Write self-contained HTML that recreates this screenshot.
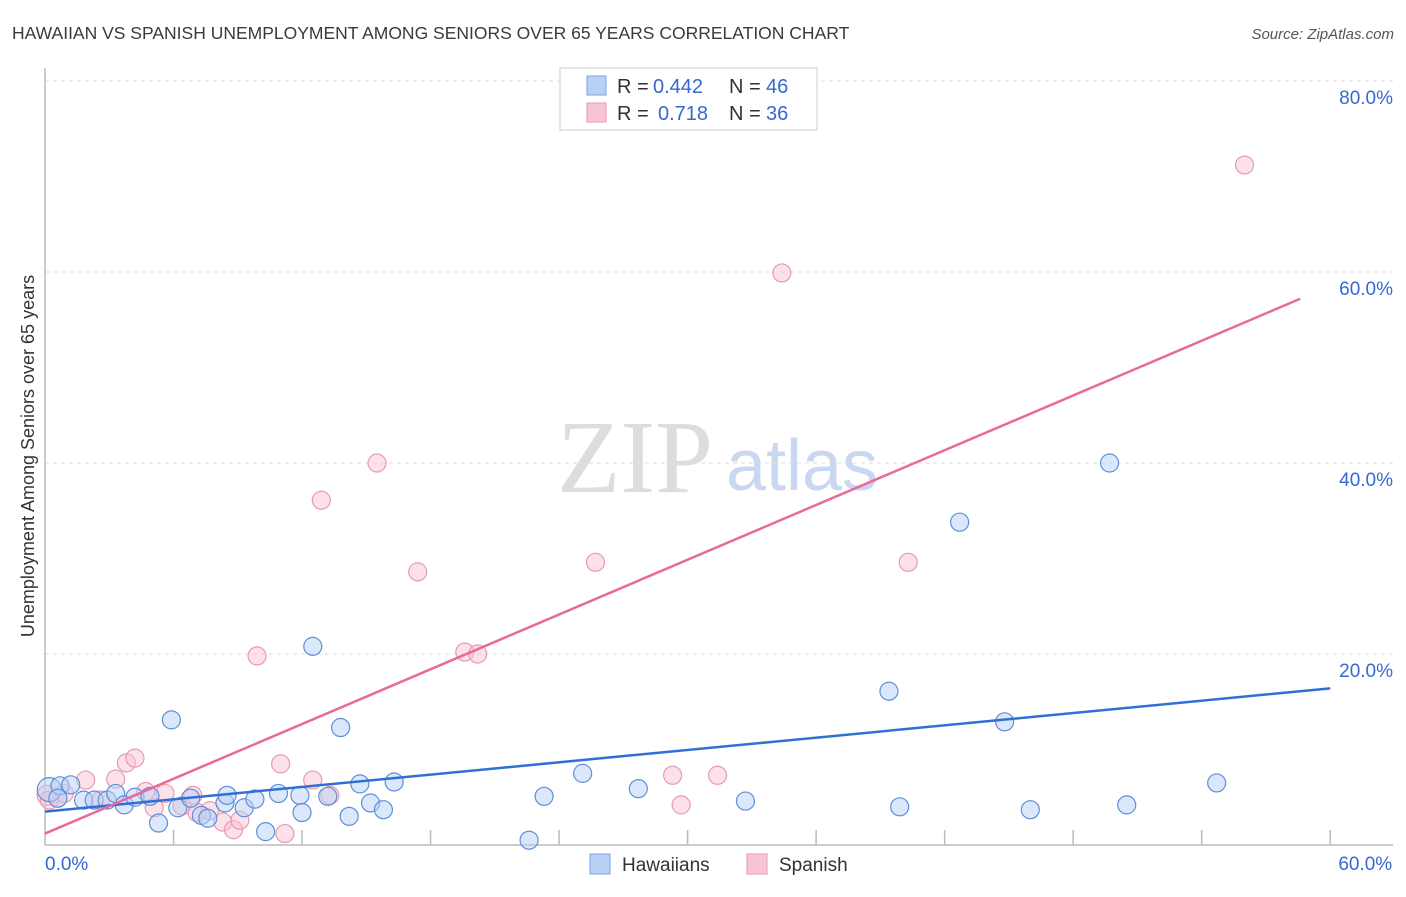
<!DOCTYPE html>
<html><head><meta charset="utf-8"><style>
body{margin:0;background:#fff;font-family:"Liberation Sans",sans-serif}
</style></head><body>
<svg id="c" width="1406" height="892" xmlns="http://www.w3.org/2000/svg">
<text x="12" y="39" font-size="17.5" fill="#3a3a3a">HAWAIIAN VS SPANISH UNEMPLOYMENT AMONG SENIORS OVER 65 YEARS CORRELATION CHART</text>
<text x="1394" y="39" font-size="15" fill="#555" font-style="italic" text-anchor="end">Source: ZipAtlas.com</text>
<text x="34" y="456" font-size="18" fill="#333" text-anchor="middle" transform="rotate(-90 34 456)">Unemployment Among Seniors over 65 years</text>
<text x="635" y="492" font-size="104" fill="#ddd" font-family="Liberation Serif" text-anchor="middle">ZIP</text>
<text x="802" y="490" font-size="72" fill="#c9d8f0" text-anchor="middle">atlas</text>
<g id="grid"></g><g id="pts"></g><g id="lines"></g>
<g font-size="20">
<rect x="560" y="68" width="257" height="62" fill="#fff" stroke="#ccc"/>
<rect x="587" y="76" width="19" height="19" fill="#b8d0f5" stroke="#7aa3e0"/>
<text x="617" y="93" fill="#333">R =</text>
<text x="653" y="93" fill="#3568d4">0.442</text>
<text x="729" y="93" fill="#333">N =</text>
<text x="766" y="93" fill="#3568d4">46</text>
<rect x="587" y="103" width="19" height="19" fill="#f9c4d4" stroke="#e89ab2"/>
<text x="617" y="120" fill="#333">R =</text>
<text x="658" y="120" fill="#3568d4">0.718</text>
<text x="729" y="120" fill="#333">N =</text>
<text x="766" y="120" fill="#3568d4">36</text>
</g>
<g>
<rect x="590" y="854" width="20" height="20" fill="#b8d0f5" stroke="#7aa3e0"/>
<text x="622" y="871" font-size="19" fill="#333">Hawaiians</text>
<rect x="747" y="854" width="20" height="20" fill="#f9c4d4" stroke="#e89ab2"/>
<text x="779" y="871" font-size="19" fill="#333">Spanish</text>
</g>
</svg>
<script>
const yTicks=[20,40,60,80];
const xTickLabels=["0.0%","60.0%"];
const blueX=[0.2,0.7,1.2,1.8,2.3,2.9,3.3,3.7,4.2,4.9,5.3,5.9,6.2,6.8,7.3,7.6,8.4,8.5,9.3,9.8,10.3,10.9,11.9,12.0,12.5,13.2,13.8,14.2,14.7,15.2,15.8,16.3,22.6,23.3,25.1,27.7,32.7,39.4,39.9,42.7,44.8,46.0,49.7,50.5,54.7,0.6];
const blueY=[5.8,6.2,6.3,4.7,4.7,4.7,5.4,4.2,5.0,5.1,2.3,13.1,3.9,4.9,3.1,2.8,4.4,5.2,3.9,4.8,1.4,5.4,5.2,3.4,20.8,5.1,12.3,3.0,6.4,4.4,3.7,6.6,0.5,5.1,7.5,5.9,4.6,16.1,4.0,33.8,12.9,3.7,40.0,4.2,6.5,4.9];
const pinkX=[0.1,0.6,0.9,1.9,2.6,3.3,3.8,4.2,4.7,5.1,5.6,6.4,6.9,7.1,7.7,8.3,8.8,9.1,9.9,11.0,11.2,12.5,12.9,13.3,15.5,17.4,19.6,20.2,25.7,29.3,29.7,31.4,34.4,40.3,56.0,0.2];
const pinkY=[5.2,4.9,5.4,6.8,4.7,6.9,8.6,9.1,5.6,3.9,5.4,4.1,5.2,3.4,3.6,2.4,1.6,2.6,19.8,8.5,1.2,6.8,36.1,5.2,40.0,28.6,20.2,20.0,29.6,7.3,4.2,7.3,59.9,29.6,71.2,4.7];
const blueTrend=[[0,3.5],[60,16.4]];
const pinkTrend=[[0,1.2],[58.6,57.2]];
const NS="http://www.w3.org/2000/svg";
const X=v=>45+v*21.42, Y=v=>845-v*9.55;
function mk(t,a,p){const e=document.createElementNS(NS,t);for(const k in a)e.setAttribute(k,a[k]);p.appendChild(e);return e;}
const g=document.getElementById('grid');
yTicks.forEach(t=>{
 const l=mk('line',{x1:45,x2:1393,y1:Y(t),y2:Y(t),stroke:'#ddd','stroke-dasharray':'4,4'},g);
 
 
 const tx=mk('text',{x:1393,y:Y(t)+23,'font-size':19,fill:'#3568d4','text-anchor':'end'},g);
 tx.textContent=t.toFixed(1)+'%';
 
 
});
const ax=mk('line',{x1:45,x2:45,y1:68,y2:845,stroke:'#bbb','stroke-width':1.5},g);


const bx=mk('line',{x1:45,x2:1393,y1:845,y2:845,stroke:'#bbb','stroke-width':1.5},g);


for(let i=1;i<=10;i++){const t=mk('line',{x1:X(i*6),x2:X(i*6),y1:830,y2:845,stroke:'#bbb','stroke-width':1.5},g);
 
 }
[[0,'start'],[60,'end']].forEach((d,i)=>{const t=mk('text',{x:X(d[0])+(i?62:0),y:870,'font-size':19,fill:'#3568d4','text-anchor':d[1]},g);
 t.textContent=xTickLabels[i];
 
 });
const p=document.getElementById('pts');
function dots(xs,ys,f,s,n){xs.forEach((x,i)=>{const c=mk('circle',{cx:X(x),cy:Y(ys[i]),r:i==0?(n=='hawaiian'?12:10):9,fill:f,'fill-opacity':0.5,stroke:s,'stroke-width':1.2},p);
 
 });}
dots(pinkX,pinkY,'#f9c4d4','#e89ab2','spanish');
dots(blueX,blueY,'#b8d0f5','#5f8fd8','hawaiian');
const L=document.getElementById('lines');
[[blueTrend,'#2f6fd6','hawaiian-trendline'],[pinkTrend,'#e8699a','spanish-trendline']].forEach(d=>{
 const l=mk('line',{x1:X(d[0][0][0]),y1:Y(d[0][0][1]),x2:X(d[0][1][0]),y2:Y(d[0][1][1]),stroke:d[1],'stroke-width':2.5},L);
 
 });
</script>
</body></html>
